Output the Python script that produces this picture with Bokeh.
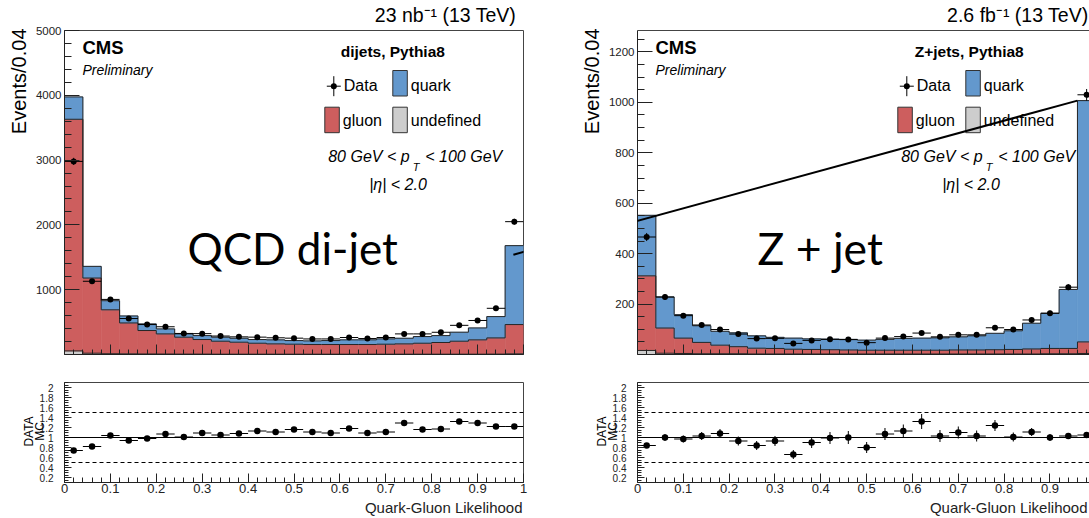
import numpy as np
from bokeh.plotting import figure
from bokeh.layouts import column, row
from bokeh.models import (Range1d, FixedTicker, LinearAxis, Label, Span,
                          PolyAnnotation, CustomJSTickFormatter)
from bokeh.embed import file_html
from bokeh.resources import INLINE

# ---------------------------------------------------------------- data
bin_centers = [0.02, 0.06, 0.10, 0.14, 0.18, 0.22, 0.26, 0.30, 0.34, 0.38, 0.42, 0.46, 0.50,
               0.54, 0.58, 0.62, 0.66, 0.70, 0.74, 0.78, 0.82, 0.86, 0.90, 0.94, 0.98]
bin_width = 0.04

# QCD di-jet sample (dijets, Pythia8), 23 nb^-1
dijet_undefined = [55, 20, 12, 10, 8, 7, 6, 6, 5, 5, 5, 5, 5, 5, 5, 5, 5, 5, 5, 5, 5, 5, 5, 6, 10]
dijet_gluon = [3575, 1160, 678, 477, 362, 311, 261, 225, 200, 185, 169, 159, 154, 149, 149,
               149, 149, 154, 159, 169, 180, 200, 221, 250, 452]
dijet_quark = [345, 180, 140, 108, 102, 77, 51, 61, 62, 61, 57, 62, 56, 56, 61,
               72, 72, 82, 87, 103, 107, 139, 184, 329, 1218]
dijet_data = [2980, 1130, 850, 555, 462, 428, 325, 322, 285, 272, 268, 258, 252, 240, 240,
              262, 246, 262, 318, 318, 343, 450, 525, 713, 2050]
dijet_data_err = [55, 34, 29, 24, 21, 21, 18, 18, 17, 16, 16, 16, 16, 15, 15,
                  16, 16, 16, 18, 18, 19, 21, 23, 27, 45]
dijet_ratio = [0.74, 0.82, 1.04, 0.94, 0.98, 1.07, 1.01, 1.09, 1.05, 1.08, 1.13, 1.11, 1.16,
               1.11, 1.09, 1.18, 1.09, 1.11, 1.29, 1.16, 1.17, 1.32, 1.29, 1.22, 1.22]
dijet_ratio_err = [0.02, 0.03, 0.04, 0.04, 0.05, 0.05, 0.05, 0.05, 0.05, 0.05, 0.05, 0.05, 0.05,
                   0.05, 0.05, 0.05, 0.05, 0.05, 0.05, 0.05, 0.05, 0.05, 0.04, 0.04, 0.03]

# Z + jet sample (Z+jets, Pythia8), 2.6 fb^-1
zjet_undefined = [16, 5, 4, 3, 3, 3, 2, 2, 2, 2, 2, 2, 2, 2, 2, 2, 2, 2, 2, 2, 2, 2, 3, 3, 4]
zjet_gluon = [296, 100, 61, 45, 34, 28, 23, 22, 19, 18, 17, 16, 15, 15, 15,
              15, 15, 16, 16, 17, 18, 20, 21, 21, 46]
zjet_quark = [240, 123, 93, 66, 55, 55, 49, 44, 44, 42, 42, 42, 40, 43, 47,
              48, 49, 52, 56, 65, 74, 102, 139, 234, 957]
zjet_data = [466, 228, 154, 117, 99, 81, 63, 64, 44, 56, 60, 59, 47, 65, 71,
             85, 70, 78, 78, 106, 99, 137, 164, 267, 1030]
zjet_data_err = [16, 11, 9, 8, 7, 7, 6, 6, 5, 6, 6, 6, 5, 6, 6, 7, 6, 7, 7, 8, 8, 9, 10, 12, 23]
zjet_ratio = [0.84, 1.00, 0.97, 1.03, 1.08, 0.93, 0.84, 0.93, 0.66, 0.90, 0.99, 1.00, 0.80,
              1.07, 1.13, 1.32, 1.03, 1.10, 1.03, 1.24, 1.01, 1.11, 1.00, 1.03, 1.05]
zjet_ratio_err = [0.04, 0.07, 0.07, 0.08, 0.09, 0.09, 0.09, 0.10, 0.09, 0.11, 0.12, 0.13, 0.11,
                  0.12, 0.13, 0.15, 0.12, 0.12, 0.11, 0.11, 0.09, 0.08, 0.07, 0.06, 0.04]

# tick labels
x_major_ticks = [0, 0.1, 0.2, 0.3, 0.4, 0.5, 0.6, 0.7, 0.8, 0.9, 1.0]
dijet_y_ticks = [1000, 2000, 3000, 4000, 5000]
zjet_y_ticks = [200, 400, 600, 800, 1000, 1200]
ratio_y_ticks = [0.2, 0.4, 0.6, 0.8, 1.0, 1.2, 1.4, 1.6, 1.8, 2.0]

# texts
lumi_texts = ["23 nb\u207b\u00b9 (13 TeV)", "2.6 fb\u207b\u00b9 (13 TeV)"]
headers = ["dijets, Pythia8", "Z+jets, Pythia8"]
big_labels = ["QCD di-jet", "Z + jet"]

# ---------------------------------------------------------------- style
FONT = "Liberation Sans"
BIG_FONT = "Lato"
QUARK_COLOR = "#6398CD"
GLUON_COLOR = "#CD5E5E"
UNDEF_COLOR = "#CDCDCD"
EDGE_COLOR = "#262626"
AXIS_COLOR = "#222222"
BASELINE_SHIFT = {FONT: 0.37, BIG_FONT: 0.40}   # label anchor -> glyph baseline offset (em)


class Geo:
    """Frame geometry in picture pixels plus data ranges."""

    def __init__(self, left, top, width, height, x_start, x_end, y_start, y_end):
        self.left, self.top, self.width, self.height = left, top, width, height
        self.x_start, self.x_end, self.y_start, self.y_end = x_start, x_end, y_start, y_end

    def x(self, px):
        return self.x_start + (px - self.left) / self.width * (self.x_end - self.x_start)

    def y(self, py):
        return self.y_start + (self.top + self.height - py) / self.height * (self.y_end - self.y_start)

    def px(self, x):
        return self.left + (x - self.x_start) / (self.x_end - self.x_start) * self.width

    def py(self, y):
        return self.top + self.height - (y - self.y_start) / (self.y_end - self.y_start) * self.height


# layout in picture pixels
M = 0
SPLIT_X = 570
PAGE_R = 1089
SPLIT_Y = 366
PAGE_B = 518
L_FRAME = 64
R_FRAME = 637
L_W = 459
R_W = PAGE_R - R_FRAME
R_PX_PER_UNIT = 458.3
TOP_Y, TOP_H = 30, 324
RAT_Y, RAT_H = 382, 100

geo_tl = Geo(L_FRAME, TOP_Y, L_W, TOP_H, 0, 1.0, 0, 5000)
geo_tr = Geo(R_FRAME, TOP_Y, R_W, TOP_H, 0, R_W / R_PX_PER_UNIT, 0, 1285)
geo_bl = Geo(L_FRAME, RAT_Y, L_W, RAT_H, 0, 1.0, 0.1, 2.1)
geo_br = Geo(R_FRAME, RAT_Y, R_W, RAT_H, 0, R_W / R_PX_PER_UNIT, 0.1, 2.1)

FMT = "return String(Math.round(tick * 1000) / 1000);"
EMPTY_FMT = "return '';"


def make_figure(geo, page_left, page_right, page_top, page_bottom, boxed):
    p = figure(width=page_right - page_left, height=page_bottom - page_top,
               x_range=Range1d(geo.x_start, geo.x_end), y_range=Range1d(geo.y_start, geo.y_end),
               output_backend="svg", toolbar_location=None,
               min_border_left=geo.left - page_left,
               min_border_right=page_right - (geo.left + geo.width),
               min_border_top=geo.top - page_top,
               min_border_bottom=page_bottom - (geo.top + geo.height))
    p.xgrid.visible = False
    p.ygrid.visible = False
    p.background_fill_color = "white"
    p.border_fill_color = "white"
    if boxed:
        p.outline_line_color = "#444444"
        p.outline_line_width = 1
        p.outline_line_alpha = 1
    else:
        p.outline_line_color = None
        top_axis = LinearAxis(ticker=FixedTicker(ticks=[]), axis_line_color="#444444",
                              major_tick_in=0, major_tick_out=0, minor_tick_in=0, minor_tick_out=0,
                              formatter=CustomJSTickFormatter(code=EMPTY_FMT),
                              major_label_text_font_size="1px", major_label_standoff=0)
        p.add_layout(top_axis, "above")
    return p


def style_axis(ax, ticks, minor, tick_len, minor_len, font_size, standoff, labels=True):
    ax.ticker = FixedTicker(ticks=ticks, minor_ticks=minor)
    ax.formatter = CustomJSTickFormatter(code=FMT if labels else EMPTY_FMT)
    ax.major_tick_in = int(tick_len)
    ax.major_tick_out = 0
    ax.minor_tick_in = int(minor_len)
    ax.minor_tick_out = 0
    ax.axis_line_color = AXIS_COLOR
    ax.major_tick_line_color = AXIS_COLOR
    ax.minor_tick_line_color = AXIS_COLOR
    ax.major_label_text_font = FONT
    ax.major_label_text_font_size = font_size
    ax.major_label_text_color = AXIS_COLOR
    ax.major_label_standoff = int(standoff)


def add_text(p, geo, text, px, py, size, style="normal", align="left", angle=0.0,
             font=FONT, side=None, color="black"):
    """px, py: wanted glyph baseline position in picture pixels."""
    shift = BASELINE_SHIFT[font] * size
    if angle == 0.0:
        py = py - shift
    else:
        px = px - shift
    lab = Label(x=geo.x(px), y=geo.y(py), text=text, text_font=font,
                text_font_size=f"{size}px", text_font_style=style, text_align=align,
                text_baseline="alphabetic", angle=angle, text_color=color)
    if side is None:
        p.add_layout(lab)
    else:
        p.add_layout(lab, side)


def add_line(p, geo, pts, width=1.0, side=None):
    ann = PolyAnnotation(xs=[geo.x(a) for a, _ in pts], ys=[geo.y(b) for _, b in pts],
                         fill_color=None, fill_alpha=0, line_color="black", line_alpha=1.0,
                         line_width=width, level="overlay")
    if side is None:
        p.add_layout(ann)
    else:
        p.add_layout(ann, side)


x_minor = [round(0.02 * i, 2) for i in range(51) if i % 5]
centers = np.array(bin_centers)
lefts = centers - bin_width / 2
rights = centers + bin_width / 2
edges = np.append(lefts, rights[-1])


def draw_stack(p, undefined, gluon, quark):
    lvl1 = np.array(undefined, dtype=float)
    lvl2 = lvl1 + np.array(gluon, dtype=float)
    lvl3 = lvl2 + np.array(quark, dtype=float)
    p.quad(left=lefts, right=rights, bottom=0, top=lvl1, fill_color=UNDEF_COLOR,
           line_color=UNDEF_COLOR, line_width=0.6)
    p.quad(left=lefts, right=rights, bottom=lvl1, top=lvl2, fill_color=GLUON_COLOR,
           line_color=GLUON_COLOR, line_width=0.6)
    p.quad(left=lefts, right=rights, bottom=lvl2, top=lvl3, fill_color=QUARK_COLOR,
           line_color=QUARK_COLOR, line_width=0.6)
    for lvl in (lvl1, lvl2, lvl3):
        p.step(x=edges, y=np.append(lvl, lvl[-1]), mode="after", line_color=EDGE_COLOR, line_width=1)
    return lvl3


def draw_points(p, values, errors, size=6):
    v = np.array(values, dtype=float)
    e = np.array(errors, dtype=float)
    p.segment(x0=lefts, x1=rights, y0=v, y1=v, line_color="black", line_width=1)
    p.segment(x0=centers, x1=centers, y0=v - e, y1=v + e, line_color="black", line_width=1)
    p.scatter(x=centers, y=v, marker="circle", size=size, fill_color="black", line_color=None)


def decorate_top(p, geo, lumi, header, header_rel):
    L = geo.left
    # lumi / energy
    add_text(p, geo, lumi, min(L + 451.7, PAGE_R - 1), 21.5, 19.5, align="right", side="above")
    # CMS Preliminary
    add_text(p, geo, "CMS", L + 18, 54, 18.5, style="bold")
    add_text(p, geo, "Preliminary", L + 18, 75, 14, style="italic")
    # legend
    add_text(p, geo, header, L + header_rel, 57, 15.5, style="bold", align="center")
    mx, my = L + 269.3, 85.7
    add_line(p, geo, [(mx - 7, my), (mx + 7, my)])
    add_line(p, geo, [(mx, my - 10), (mx, my + 10)])
    p.scatter(x=[geo.x(mx)], y=[geo.y(my)], marker="circle", size=6, fill_color="black", line_color=None)
    add_text(p, geo, "Data", L + 279.3, 91.4, 16)
    boxes = [(L + 328.3, 70, QUARK_COLOR, "quark", 91.4),
             (L + 260.3, 106.7, GLUON_COLOR, "gluon", 125.7),
             (L + 328.3, 106.7, UNDEF_COLOR, "undefined", 125.7)]
    for bx, by, col, name, base in boxes:
        p.quad(left=[geo.x(bx)], right=[geo.x(bx + 14.5)], top=[geo.y(by)], bottom=[geo.y(by + 25.5)],
               fill_color=col, line_color="#333333", line_width=1)
        add_text(p, geo, name, bx + 18, base, 16)
    # cuts
    add_text(p, geo, "80 GeV < p", L + 263.7, 162.4, 16, style="italic")
    add_text(p, geo, "T", L + 351.5, 170.5, 11, style="italic", align="center")
    add_text(p, geo, "< 100 GeV", L + 437.7, 162.4, 16, style="italic", align="right")
    add_text(p, geo, "|\u03b7| < 2.0", L + 333.5, 190, 16, style="italic", align="center")
    # y title
    add_text(p, geo, "Events/0.04", L - 38, 28, 20, align="right", angle=np.pi / 2, side="left")


def setup_top(p, yticks, minor, major_len, minor_len):
    style_axis(p.yaxis[0], yticks, minor, major_len, minor_len, "11.5px", 3)
    style_axis(p.below[0], x_major_ticks, x_minor, 10, 5, "1px", 0, labels=False)


def setup_ratio(p, geo, ratio, ratio_err, title_right):
    style_axis(p.yaxis[0], ratio_y_ticks, [round(0.05 * i, 2) for i in range(2, 43) if i % 4],
               7, 4, "10px", 11)
    style_axis(p.below[0], x_major_ticks, x_minor, 9, 5, "13px", 1)
    p.add_layout(Span(location=1.0, dimension="width", line_color="black", line_width=1))
    for loc in (0.5, 1.5):
        p.add_layout(Span(location=loc, dimension="width", line_color="black", line_width=1,
                          line_dash="4 3"))
    draw_points(p, ratio, ratio_err, size=6.5)
    L = geo.left
    add_text(p, geo, "DATA", L - 31.2, 431, 12, align="center", angle=np.pi / 2, side="left")
    add_text(p, geo, "MC", L - 20.5, 431, 12, align="center", angle=np.pi / 2, side="left")
    add_line(p, geo, [(L - 29.7, 414), (L - 29.7, 448)], side="left")
    add_text(p, geo, "Quark-Gluon Likelihood", title_right, 513, 15, align="right",
             side="below", color=AXIS_COLOR)


# ---------------------------------------------------------------- figures
p_tl = make_figure(geo_tl, M, SPLIT_X, M, SPLIT_Y, boxed=True)
p_tr = make_figure(geo_tr, SPLIT_X, PAGE_R, M, SPLIT_Y, boxed=False)
p_bl = make_figure(geo_bl, M, SPLIT_X, SPLIT_Y, PAGE_B, boxed=True)
p_br = make_figure(geo_br, SPLIT_X, PAGE_R, SPLIT_Y, PAGE_B, boxed=False)

setup_top(p_tl, dijet_y_ticks, [v for v in range(200, 5000, 200) if v % 1000], 15, 7)
setup_top(p_tr, zjet_y_ticks, [v for v in range(50, 1300, 50) if v % 200], 15, 7)

dijet_total = draw_stack(p_tl, dijet_undefined, dijet_gluon, dijet_quark)
draw_points(p_tl, dijet_data, dijet_data_err)
zjet_total = draw_stack(p_tr, zjet_undefined, zjet_gluon, zjet_quark)
draw_points(p_tr, zjet_data, zjet_data_err)

decorate_top(p_tl, geo_tl, lumi_texts[0], headers[0], 328.3)
decorate_top(p_tr, geo_tr, lumi_texts[1], headers[1], 331.7)

setup_ratio(p_bl, geo_bl, dijet_ratio, dijet_ratio_err, geo_bl.px(1.0) - 1)
setup_ratio(p_br, geo_br, zjet_ratio, zjet_ratio_err, PAGE_R - 2)

# big overlay labels
add_text(p_tl, geo_tl, big_labels[0], 187, 265, 44, font=BIG_FONT)
add_text(p_tr, geo_tr, big_labels[1], 757, 265, 44.5, font=BIG_FONT)

# connecting line: from the last di-jet bin to the top of the last Z+jet bin
line_start = (geo_tl.px(0.978), geo_tl.py(1540))
line_end = (geo_tr.px(rights[-1] - bin_width), geo_tr.py(zjet_total[-1]))
add_line(p_tl, geo_tl, [line_start, line_end], width=2, side="right")
add_line(p_tr, geo_tr, [line_start, line_end], width=2, side="left")

layout = column(row(p_tl, p_tr, spacing=0), row(p_bl, p_br, spacing=0), spacing=0)

open("out.html", "w").write(file_html(layout, INLINE))
